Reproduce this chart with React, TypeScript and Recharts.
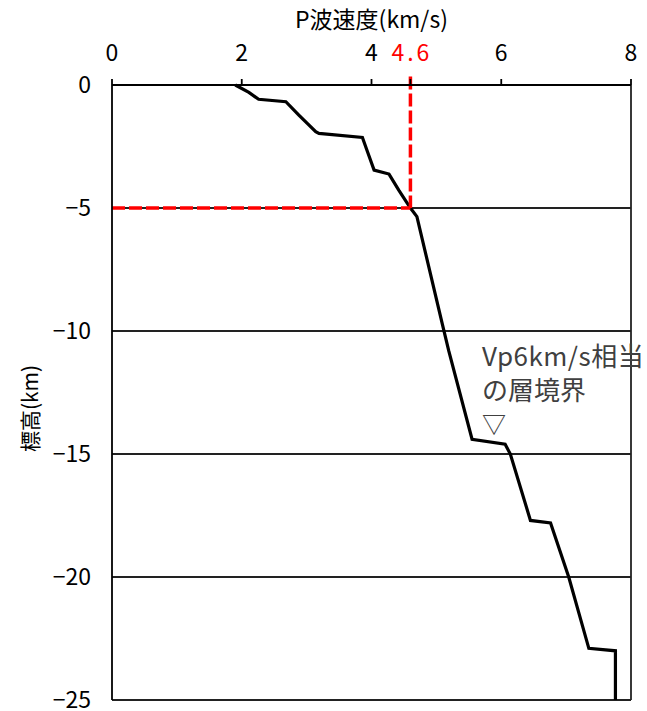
import {
  CartesianGrid,
  Label,
  Line,
  LineChart,
  ReferenceLine,
  XAxis,
  YAxis
} from "recharts";

// P-wave velocity profile (km/s) against elevation (km)
const velocity = [1.90, 2.11, 2.26, 2.68, 2.88, 3.01, 3.14, 3.19, 3.86, 3.93, 4.04, 4.27, 4.42, 4.60, 4.70, 5.09, 5.19, 5.55, 6.06, 6.14, 6.45, 6.76, 7.04, 7.35, 7.76, 7.76];
const elevation = [0, -0.3, -0.58, -0.68, -1.22, -1.56, -1.9, -1.97, -2.13, -2.65, -3.46, -3.62, -4.27, -5.0, -5.35, -9.7, -10.8, -14.4, -14.6, -15.0, -17.7, -17.8, -20.0, -22.9, -23.0, -25.0];

const xTicks = [0, 2, 4, 4.6, 6, 8];
const yTicks = [0, -5, -10, -15, -20, -25];
const markVelocity = 4.6;
const markElevation = -5;

const FONT = "'Noto Sans CJK JP', 'Noto Sans', sans-serif";

const data = velocity.map((v, i) => ({ v, h: elevation[i] }));

function TopTick(props: any) {
  const { x, y, payload } = props;
  const isMark = payload.value === markVelocity;
  return (
    <text
      x={x + (isMark ? 1.5 : 0)}
      y={y}
      textAnchor="middle"
      fill={isMark ? "#ff0000" : "#000"}
      fontSize={23}
      fontFamily={FONT}
      letterSpacing={isMark ? 3 : 0}
    >
      {payload.value}
    </text>
  );
}

function LeftTick(props: any) {
  const { x, y, payload } = props;
  const label = payload.value < 0 ? `−${Math.abs(payload.value)}` : `${payload.value}`;
  return (
    <text x={x} y={y} dy={8} textAnchor="end" fill="#000" fontSize={23} fontFamily={FONT}>
      {label}
    </text>
  );
}

export default function App() {
  return (
    <div style={{ position: "absolute", left: 0, top: 0, width: 647, height: 711, background: "#fff" }}>
      <LineChart width={647} height={711} data={data} margin={{ top: 0, right: 16, bottom: 11, left: 0 }}>
        <CartesianGrid horizontal vertical={false} stroke="#222" strokeWidth={1.8} horizontalValues={yTicks} />
        <XAxis
          dataKey="v"
          type="number"
          orientation="top"
          domain={[0, 8]}
          ticks={xTicks}
          interval={0}
          height={85}
          tickSize={6}
          tickMargin={18}
          stroke="#000"
          strokeWidth={1.8}
          tick={<TopTick />}
        >
          <Label
            content={({ viewBox }: any) => (
              <text
                x={viewBox.x + viewBox.width / 2}
                y={28}
                textAnchor="middle"
                fontSize={23}
                fontFamily={FONT}
                fill="#000"
              >
                P波速度(km/s)
              </text>
            )}
          />
        </XAxis>
        <YAxis
          dataKey="h"
          type="number"
          domain={[-25, 0]}
          ticks={yTicks}
          interval={0}
          width={112}
          tickLine={false}
          tickSize={0}
          tickMargin={21}
          stroke="#000"
          strokeWidth={1.8}
          tick={<LeftTick />}
        >
          <Label
            content={({ viewBox }: any) => {
              const cx = 29;
              const cy = viewBox.y + viewBox.height / 2 + 16;
              return (
                <text
                  x={cx}
                  y={cy}
                  transform={`rotate(-90 ${cx} ${cy})`}
                  textAnchor="middle"
                  dominantBaseline="central"
                  fontSize={21}
                  fontFamily={FONT}
                  fill="#000"
                >
                  標高(km)
                </text>
              );
            }}
          />
        </YAxis>
        <ReferenceLine x={8} stroke="#222" strokeWidth={1.8} />
        <Line
          type="linear"
          dataKey="h"
          stroke="#000"
          strokeWidth={3.2}
          dot={false}
          isAnimationActive={false}
        />
        <ReferenceLine
          segment={[{ x: 0, y: markElevation }, { x: markVelocity, y: markElevation }]}
          stroke="#ff0000"
          strokeWidth={3.5}
          strokeDasharray="13 4"
          ifOverflow="visible"
        />
        <ReferenceLine
          segment={[{ x: markVelocity, y: 0.35 }, { x: markVelocity, y: markElevation }]}
          stroke="#ff0000"
          strokeWidth={3.5}
          strokeDasharray="13 4"
          ifOverflow="visible"
        />
      </LineChart>
      <div
        style={{
          position: "absolute",
          left: 482,
          top: 338,
          fontSize: 26,
          lineHeight: "34px",
          color: "#404040",
          fontFamily: FONT,
          whiteSpace: "nowrap"
        }}
      >
        <div style={{ letterSpacing: 0.5 }}>Vp6km/s相当</div>
        <div>の層境界</div>
        <div style={{ fontSize: 24 }}>▽</div>
      </div>
    </div>
  );
}
